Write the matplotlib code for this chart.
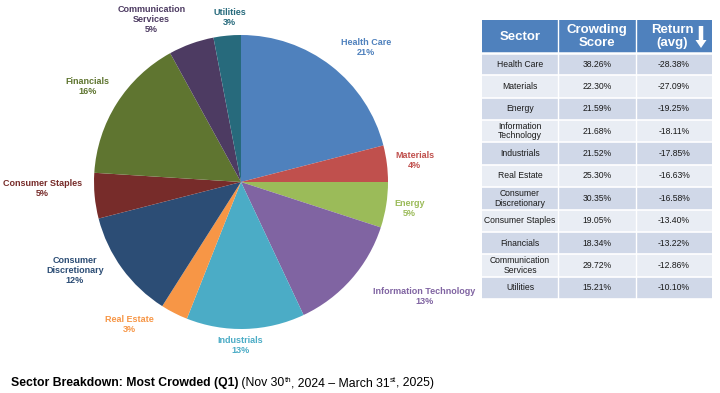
import matplotlib
matplotlib.use("Agg")
import numpy as np
import matplotlib.pyplot as plt
from matplotlib.patches import Rectangle, FancyArrow

plt.rcParams['font.family'] = ['Liberation Sans', 'DejaVu Sans']

# pie data
sectors = ['Health Care', 'Materials', 'Energy', 'Information Technology', 'Industrials',
           'Real Estate', 'Consumer\nDiscretionary', 'Consumer Staples', 'Financials',
           'Communication\nServices', 'Utilities']
shares = [21, 4, 5, 13, 13, 3, 12, 5, 16, 5, 3]
colors = ['#4F81BD', '#C0504D', '#9BBB59', '#8064A2', '#4BACC6', '#F79646',
          '#2C4D75', '#772C2A', '#5F7530', '#4D3B62', '#276A7C']

# table data
table_sectors = ['Health Care', 'Materials', 'Energy', 'Information\nTechnology', 'Industrials',
                 'Real Estate', 'Consumer\nDiscretionary', 'Consumer Staples', 'Financials',
                 'Communication\nServices', 'Utilities']
crowding = ['38.26%', '22.30%', '21.59%', '21.68%', '21.52%', '25.30%',
            '30.35%', '19.05%', '18.34%', '29.72%', '15.21%']
returns = ['-28.38%', '-27.09%', '-19.25%', '-18.11%', '-17.85%', '-16.63%',
           '-16.58%', '-13.40%', '-13.22%', '-12.86%', '-10.10%']

W, H = 720, 393
fig = plt.figure(figsize=(W / 100, H / 100), dpi=100)
ax = fig.add_axes([0, 0, 1, 1])

def Y(y):
    # pixel row (from top) -> data y
    return H - y

# pie
cx, cy, r = 241, 182, 147
wedges, _ = ax.pie(shares, colors=colors, startangle=90, counterclock=False,
                   center=(cx, Y(cy)), radius=r, wedgeprops=dict(linewidth=0))

# label placement: (distance factor, angle nudge in degrees)
label_pos = [(1.25, -5), (1.19, 0), (1.16, 0), (1.47, 9.5), (1.11, -2), (1.23, -11),
             (1.28, -8), (1.35, -3.5), (1.23, 0.5), (1.26, 9), (1.12, -1.5)]
for w, name, pct, col, (d, da) in zip(wedges, sectors, shares, colors, label_pos):
    ang = np.deg2rad((w.theta1 + w.theta2) / 2 + da)
    ax.text(cx + d * r * np.cos(ang), Y(cy) + d * r * np.sin(ang), f'{name}\n{pct}%',
            color=col, fontsize=6.5, fontweight='bold', ha='center', va='center',
            linespacing=1.15)

# table
col_x = [482, 558, 636, 712]
head_top, head_bot, tab_bot = 20, 53, 299
row_h = (tab_bot - head_bot) / len(table_sectors)
ax.add_patch(Rectangle((col_x[0], Y(head_bot)), col_x[-1] - col_x[0], head_bot - head_top,
                       facecolor='#4F81BD', edgecolor='none'))
for i in range(len(table_sectors)):
    y0 = head_bot + i * row_h
    fc = '#D0D8E8' if i % 2 == 0 else '#E9EDF4'
    ax.add_patch(Rectangle((col_x[0], Y(y0 + row_h)), col_x[-1] - col_x[0], row_h,
                           facecolor=fc, edgecolor='none'))
    ym = Y(y0 + row_h / 2)
    for j, txt in enumerate([table_sectors[i], crowding[i], returns[i]]):
        ax.text((col_x[j] + col_x[j + 1]) / 2, ym, txt, fontsize=6.2, ha='center',
                va='center', color='#1a1a1a', linespacing=1.05)
# white grid lines
for x in col_x[1:-1]:
    ax.plot([x, x], [Y(head_top), Y(tab_bot)], color='white', lw=1)
for i in range(len(table_sectors) + 1):
    y = head_bot + i * row_h
    ax.plot([col_x[0], col_x[-1]], [Y(y), Y(y)], color='white', lw=1.2 if i else 1.8)

hy = Y((head_top + head_bot) / 2)
ax.text(520, hy, 'Sector', color='white', fontsize=9.5, fontweight='bold', ha='center', va='center')
ax.text(597, hy, 'Crowding\nScore', color='white', fontsize=9.5, fontweight='bold',
        ha='center', va='center', linespacing=1.05)
ax.text(672, hy, 'Return\n(avg)', color='white', fontsize=9.5, fontweight='bold',
        ha='center', va='center', linespacing=1.05)
ax.add_patch(FancyArrow(701, Y(26), 0, -22, width=4.5, head_width=11, head_length=8,
                        length_includes_head=True, color='white', lw=0))

# title pieces
renderer = fig.canvas.get_renderer()
def put(x, y, s, size=8.8, **kw):
    t = ax.text(x, Y(y), s, fontsize=size, va='baseline', ha='left', **kw)
    return x + t.get_window_extent(renderer).width

x = 11
x = put(x, 386, 'Sector Breakdown: Most Crowded (Q1)', fontweight='bold')
x = put(x, 386, ' (Nov 30')
x = put(x, 382, 'th', size=5.8)
x = put(x, 386, ', 2024 \u2013 March 31')
x = put(x, 382, 'st', size=5.8)
x = put(x, 386, ', 2025)')

ax.set_xlim(0, W)
ax.set_ylim(0, H)
ax.set_aspect('equal')
ax.axis('off')
fig.savefig('out.png', dpi=100)
